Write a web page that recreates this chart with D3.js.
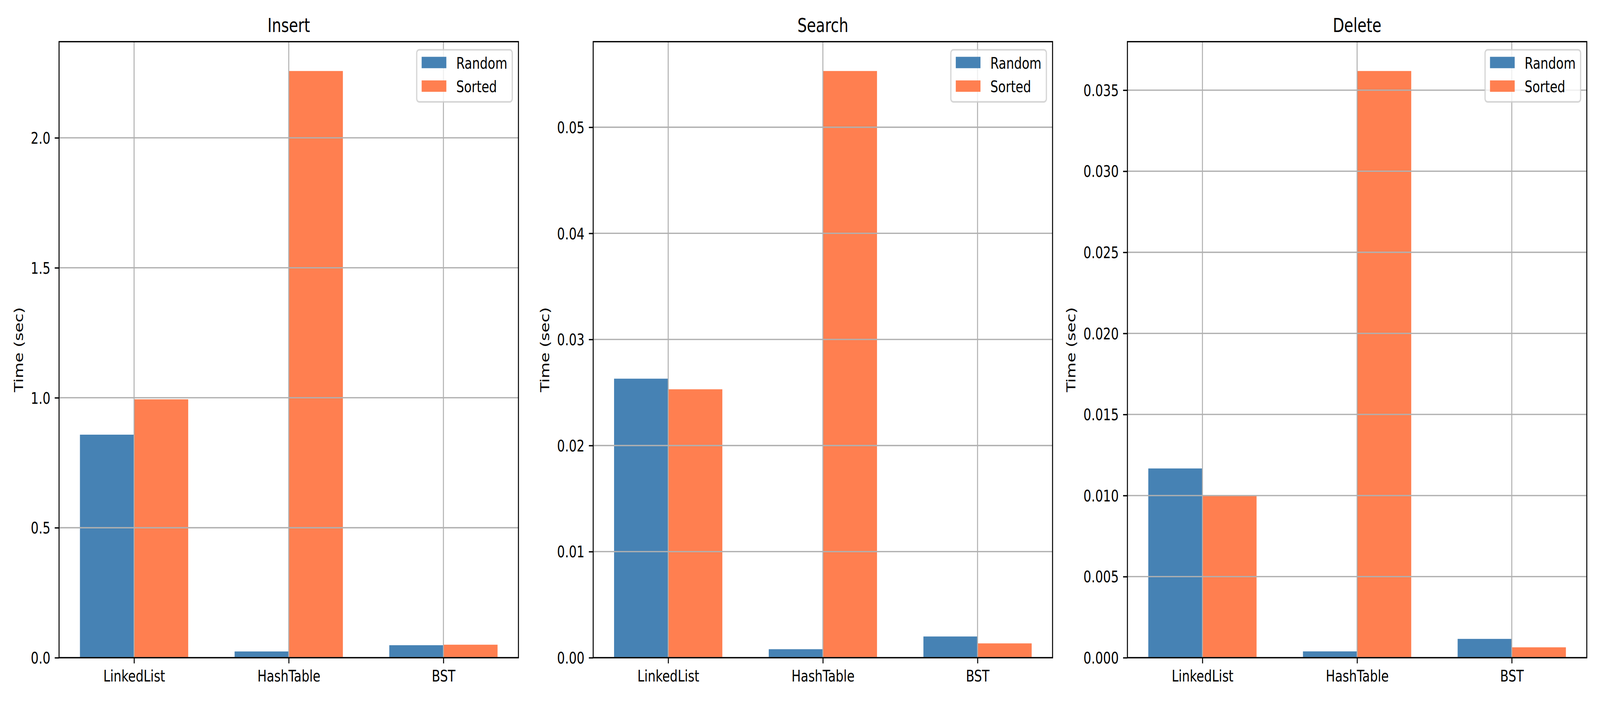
<!DOCTYPE html>
<html>
<head>
<meta charset="utf-8">
<script src="https://cdn.jsdelivr.net/npm/d3@7"></script>
<style>
  html, body { margin: 0; padding: 0; background: #fff; overflow: hidden; }
  #chart svg { display: block; width: 100vw; height: 100vh; }
  text { font-family: "DejaVu Sans", sans-serif; fill: #000; }
</style>
</head>
<body>
<div id="chart"></div>
<script>
// --- data ---
const categories = ["LinkedList", "HashTable", "BST"];
const seriesNames = ["Random", "Sorted"];
const seriesColors = ["#4682b4", "#ff7f50"];

const panelTitles = ["Insert", "Search", "Delete"];

const insertRandom = [0.858, 0.024, 0.048];
const insertSorted = [0.994, 2.257, 0.050];
const searchRandom = [0.0263, 0.0008, 0.0020];
const searchSorted = [0.0253, 0.0553, 0.00135];
const deleteRandom = [0.01167, 0.00039, 0.00116];
const deleteSorted = [0.00998, 0.03618, 0.00064];

const insertTicks = [0, 0.5, 1.0, 1.5, 2.0];
const searchTicks = [0, 0.01, 0.02, 0.03, 0.04, 0.05];
const deleteTicks = [0, 0.005, 0.010, 0.015, 0.020, 0.025, 0.030, 0.035];
const tickFormats = [".1f", ".2f", ".3f"];

const panels = [
  { title: panelTitles[0], values: [insertRandom, insertSorted], ticks: insertTicks, fmt: tickFormats[0] },
  { title: panelTitles[1], values: [searchRandom, searchSorted], ticks: searchTicks, fmt: tickFormats[1] },
  { title: panelTitles[2], values: [deleteRandom, deleteSorted], ticks: deleteTicks, fmt: tickFormats[2] }
];

// --- layout (300 dpi matplotlib look) ---
const W = 5400, H = 1800;
const pt = 300 / 72;
const fs = 10 * pt;          // tick / label font
const titleFs = 12 * pt;
const lw = 0.8 * pt;
const tickLen = 3.5 * pt, tickPad = 3.5 * pt;
const panelLefts = [199.3, 2002, 3805];
const panelW = 1550.4;
const plotTop = 106.7, plotBottom = 1684;
const barW = 0.35;

// viewBox so the whole figure always fills the window
const svg = d3.select("#chart").append("svg")
  .attr("viewBox", `0 0 ${W} ${H}`)
  .attr("preserveAspectRatio", "none");

svg.append("rect").attr("width", W).attr("height", H).attr("fill", "#fff");

panels.forEach((p, pi) => {
  const left = panelLefts[pi];
  const right = left + panelW;
  const g = svg.append("g");

  // x domain like matplotlib: bar extent plus 5% margin
  const lo = -barW, hi = categories.length - 1 + barW;
  const mx = (hi - lo) * 0.05;
  const x = d3.scaleLinear().domain([lo - mx, hi + mx]).range([left, right]);

  const maxV = d3.max(p.values.flat());
  const y = d3.scaleLinear().domain([0, maxV * 1.05]).range([plotBottom, plotTop]);

  // bars
  p.values.forEach((vals, si) => {
    g.selectAll(null)
      .data(vals)
      .enter()
      .append("rect")
      .attr("x", (d, i) => x(si === 0 ? i - barW : i))
      .attr("width", x(barW) - x(0))
      .attr("y", d => y(d))
      .attr("height", d => y(0) - y(d))
      .attr("fill", seriesColors[si]);
  });

  // grid (drawn above bars, as in the reference)
  const grid = g.append("g").attr("stroke", "#b0b0b0").attr("stroke-width", lw);
  grid.selectAll(null).data(p.ticks).enter().append("line")
    .attr("x1", left).attr("x2", right)
    .attr("y1", d => y(d)).attr("y2", d => y(d));
  grid.selectAll(null).data(categories).enter().append("line")
    .attr("x1", (d, i) => x(i)).attr("x2", (d, i) => x(i))
    .attr("y1", plotTop).attr("y2", plotBottom);

  // frame
  g.append("rect")
    .attr("x", left).attr("y", plotTop)
    .attr("width", panelW).attr("height", plotBottom - plotTop)
    .attr("fill", "none").attr("stroke", "#000").attr("stroke-width", lw);

  // y axis
  const yAxis = d3.axisLeft(y)
    .tickValues(p.ticks)
    .tickFormat(d3.format(p.fmt))
    .tickSize(tickLen)
    .tickPadding(tickPad);
  const ya = g.append("g").attr("transform", `translate(${left},0)`).call(yAxis);
  ya.select(".domain").remove();
  ya.selectAll(".tick line").attr("stroke", "#000").attr("stroke-width", lw);
  ya.selectAll(".tick text")
    .attr("font-size", fs)
    .attr("font-family", "DejaVu Sans")
    .attr("fill", "#000")
    .attr("dy", "0.35em");

  // x axis
  const xAxis = d3.axisBottom(x)
    .tickValues(d3.range(categories.length))
    .tickFormat(i => categories[i])
    .tickSize(tickLen)
    .tickPadding(tickPad);
  const xa = g.append("g").attr("transform", `translate(0,${plotBottom})`).call(xAxis);
  xa.select(".domain").remove();
  xa.selectAll(".tick line").attr("stroke", "#000").attr("stroke-width", lw);
  xa.selectAll(".tick text")
    .attr("font-size", fs)
    .attr("font-family", "DejaVu Sans")
    .attr("fill", "#000")
    .attr("dy", "0.76em");

  // y label, placed left of the widest tick label
  let maxLabelW = 0;
  ya.selectAll(".tick text").each(function() {
    maxLabelW = Math.max(maxLabelW, this.getBBox().width);
  });
  const labelX = left - tickLen - tickPad - maxLabelW - 4 * pt - 0.236 * fs;
  const labelY = (plotTop + plotBottom) / 2;
  g.append("text")
    .attr("transform", `translate(${labelX},${labelY}) rotate(-90)`)
    .attr("text-anchor", "middle")
    .attr("font-size", fs)
    .text("Time (sec)");

  // title
  g.append("text")
    .attr("x", (left + right) / 2)
    .attr("y", plotTop - 6 * pt)
    .attr("text-anchor", "middle")
    .attr("font-size", titleFs)
    .text(p.title);

  // legend (upper right)
  const pad = 0.5 * fs, border = 0.4 * fs, handleW = 2 * fs, handleH = 0.7 * fs;
  const textGap = 0.8 * fs, rowH = 1.45 * fs;
  const lg = g.append("g");
  const box = lg.append("rect")
    .attr("fill", "#fff").attr("fill-opacity", 0.8)
    .attr("stroke", "#cccccc").attr("stroke-opacity", 0.8)
    .attr("stroke-width", 1 * pt)
    .attr("rx", 0.2 * fs);
  const items = lg.selectAll(null).data(seriesNames).enter().append("g");
  items.append("rect")
    .attr("width", handleW).attr("height", handleH)
    .attr("y", (d, i) => i * rowH - handleH / 2)
    .attr("fill", (d, i) => seriesColors[i]);
  items.append("text")
    .attr("x", handleW + textGap)
    .attr("y", (d, i) => i * rowH)
    .attr("dy", "0.38em")
    .attr("font-size", fs)
    .text(d => d);
  let textW = 0;
  items.selectAll("text").each(function() { textW = Math.max(textW, this.getBBox().width); });
  const lgW = border * 2 + handleW + textGap + textW;
  const lgH = border * 2 + rowH * (seriesNames.length - 1) + 0.95 * fs;
  const lgX = right - pad - lgW, lgY = plotTop + pad;
  box.attr("x", lgX).attr("y", lgY).attr("width", lgW).attr("height", lgH);
  items.attr("transform", `translate(${lgX + border},${lgY + border + 0.38 * fs})`);
});
</script>
</body>
</html>
